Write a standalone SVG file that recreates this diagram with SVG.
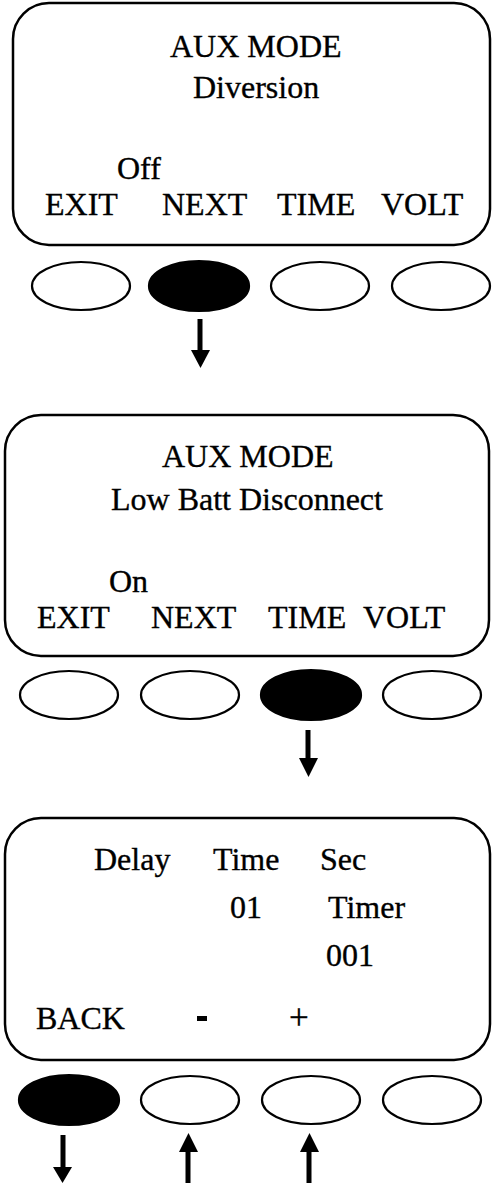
<svg xmlns="http://www.w3.org/2000/svg" width="492" height="1183" viewBox="0 0 492 1183">
  <style>
    .panel { fill: #fff; stroke: #000; stroke-width: 2.5; }
    .key { fill: #fff; stroke: #000; stroke-width: 2.2; }
    .key.on { fill: #000; }
    text { font-family: "Liberation Serif", "Times New Roman", serif; font-size: 32px; fill: #000; stroke: #000; stroke-width: 0.35; }
    .shaft { stroke: #000; stroke-width: 5; fill: none; }
    .head { fill: #000; }
  </style>
  <rect width="492" height="1183" fill="#fff"/>

  <!-- Screen 1: Diversion -->
  <g id="screen-diversion">
    <rect class="panel" x="13" y="3" width="477" height="242" rx="36" ry="36"/>
    <text x="170" y="57">AUX MODE</text>
    <text x="193" y="98">Diversion</text>
    <text x="117" y="179">Off</text>
    <text x="45" y="215">EXIT</text>
    <text x="162" y="215">NEXT</text>
    <text x="277" y="215">TIME</text>
    <text x="381" y="215">VOLT</text>
  </g>
  <g id="keys-1">
    <ellipse class="key" cx="81" cy="286" rx="49" ry="24"/>
    <ellipse class="key on" cx="199" cy="286" rx="50" ry="25"/>
    <ellipse class="key" cx="320" cy="286" rx="49" ry="24"/>
    <ellipse class="key" cx="441" cy="286" rx="49" ry="24"/>
  </g>

  <!-- Screen 2: Low Batt Disconnect -->
  <g id="screen-lbd">
    <rect class="panel" x="5" y="415" width="484" height="241" rx="36" ry="36"/>
    <text x="162" y="467">AUX MODE</text>
    <text x="111" y="510">Low Batt Disconnect</text>
    <text x="109" y="592">On</text>
    <text x="37" y="628">EXIT</text>
    <text x="151" y="628">NEXT</text>
    <text x="268" y="628">TIME</text>
    <text x="363" y="628">VOLT</text>
  </g>
  <g id="keys-2">
    <ellipse class="key" cx="69" cy="695" rx="49" ry="24"/>
    <ellipse class="key" cx="190" cy="695" rx="49" ry="24"/>
    <ellipse class="key on" cx="311" cy="695" rx="50" ry="25"/>
    <ellipse class="key" cx="432" cy="695" rx="49" ry="24"/>
  </g>

  <!-- Screen 3: Delay time -->
  <g id="screen-delay">
    <rect class="panel" x="5" y="818" width="485" height="242" rx="36" ry="36"/>
    <text x="94" y="870">Delay</text>
    <text x="213" y="870">Time</text>
    <text x="320" y="870">Sec</text>
    <text x="230" y="918">01</text>
    <text x="328" y="918">Timer</text>
    <text x="326" y="966">001</text>
    <text x="36" y="1029">BACK</text>
    <rect x="197" y="1016" width="10" height="5" fill="#000"/>
    <text x="289" y="1029" style="font-size:35px">+</text>
  </g>
  <g id="keys-3">
    <ellipse class="key on" cx="69" cy="1100" rx="50" ry="25"/>
    <ellipse class="key" cx="190" cy="1100" rx="49" ry="24"/>
    <ellipse class="key" cx="311" cy="1100" rx="49" ry="24"/>
    <ellipse class="key" cx="432" cy="1100" rx="49" ry="24"/>
  </g>

  <!-- Connectors -->
  <g id="connectors">
    <line class="shaft" x1="200" y1="319" x2="200" y2="351"/>
    <polygon class="head" points="191,350 210,350 200.5,368"/>

    <line class="shaft" x1="308" y1="730" x2="308" y2="759"/>
    <polygon class="head" points="299,758 318,758 308.5,777"/>

    <line class="shaft" x1="63" y1="1135" x2="63" y2="1168"/>
    <polygon class="head" points="53,1167 72,1167 62.5,1183"/>

    <line class="shaft" x1="188" y1="1151" x2="188" y2="1183"/>
    <polygon class="head" points="179,1152 198,1152 188.5,1133"/>

    <line class="shaft" x1="309" y1="1151" x2="309" y2="1183"/>
    <polygon class="head" points="300,1152 319,1152 309.5,1133"/>
  </g>
</svg>
